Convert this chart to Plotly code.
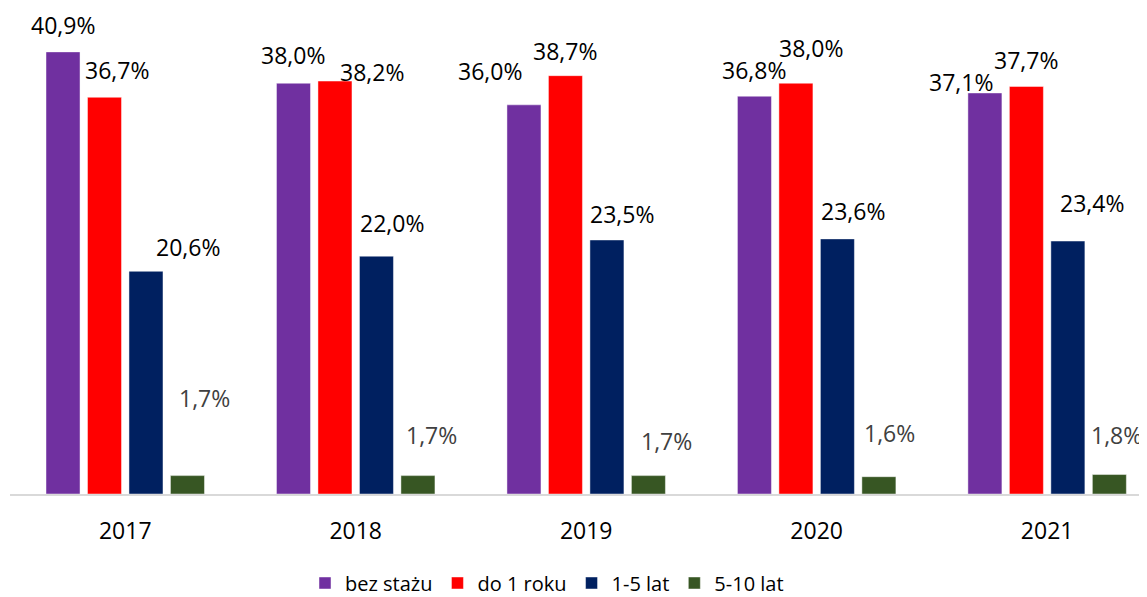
import plotly.graph_objects as go

years = ["2017", "2018", "2019", "2020", "2021"]
series_names = ["bez stażu", "do 1 roku", "1-5 lat", "5-10 lat"]
bez_stazu = [40.9, 38.0, 36.0, 36.8, 37.1]
do_1_roku = [36.7, 38.2, 38.7, 38.0, 37.7]
lat_1_5 = [20.6, 22.0, 23.5, 23.6, 23.4]
lat_5_10 = [1.7, 1.7, 1.7, 1.6, 1.8]
values = [bez_stazu, do_1_roku, lat_1_5, lat_5_10]

colors = ["#7030A0", "#FF0000", "#002060", "#375623"]
label_colors = ["#000000", "#000000", "#000000", "#404040"]

# label placement tweaks (pixels): horizontal shift from bar centre, lift above bar top
label_dx = [
    [0, 0, -34, 0, -24],
    [13, 37, 0, 15, 0],
    [42, 16, 15, 16, 24],
    [17, 14, 18, 11, 7],
]
label_dy = [
    [27, 28, 34, 26, 11],
    [27, 9, 25, 35, 26],
    [24, 33, 26, 28, 38],
    [78, 41, 35, 44, 40],
]

fig = go.Figure()
for name, vals, c in zip(series_names, values, colors):
    fig.add_trace(go.Bar(
        x=years, y=vals, name=name,
        marker=dict(color=c, line=dict(color="rgba(255,255,255,0.45)", width=1)),
        hoverinfo="skip",
    ))

bargap = 0.28
slot = (1 - bargap) / len(series_names)
annotations = []
for j, vals in enumerate(values):
    for i, v in enumerate(vals):
        xpos = i + (j - (len(series_names) - 1) / 2) * slot
        annotations.append(dict(
            x=xpos, y=v, xref="x", yref="y",
            text=f"{v:.1f}".replace(".", ",") + "%",
            showarrow=False, xanchor="center", yanchor="middle",
            xshift=label_dx[j][i], yshift=label_dy[j][i],
            font=dict(family="Open Sans", size=23, color=label_colors[j]),
        ))

fig.update_layout(
    width=1147, height=597,
    margin=dict(l=2, r=0, t=0, b=111),
    paper_bgcolor="white", plot_bgcolor="white",
    barmode="group", bargap=bargap, bargroupgap=0.18,
    font=dict(family="Open Sans", size=23, color="#000000"),
    showlegend=True,
    legend=dict(orientation="h", x=0.469, xanchor="center", y=-0.1831, yanchor="middle",
                font=dict(family="Open Sans", size=20, color="#000000"),
                itemclick=False, itemdoubleclick=False),
    annotations=annotations,
)
fig.update_xaxes(
    type="category", range=[-0.5, 4.468],
    showline=True, linecolor="#d9d9d9", linewidth=1.5,
    showgrid=False, ticks="", ticklabelstandoff=16,
    tickfont=dict(family="Open Sans", size=23, color="#000000"),
)
fig.update_yaxes(range=[0, 44.96], showgrid=False, showticklabels=False,
                 zeroline=False, showline=False)

fig.write_html("out.html")
